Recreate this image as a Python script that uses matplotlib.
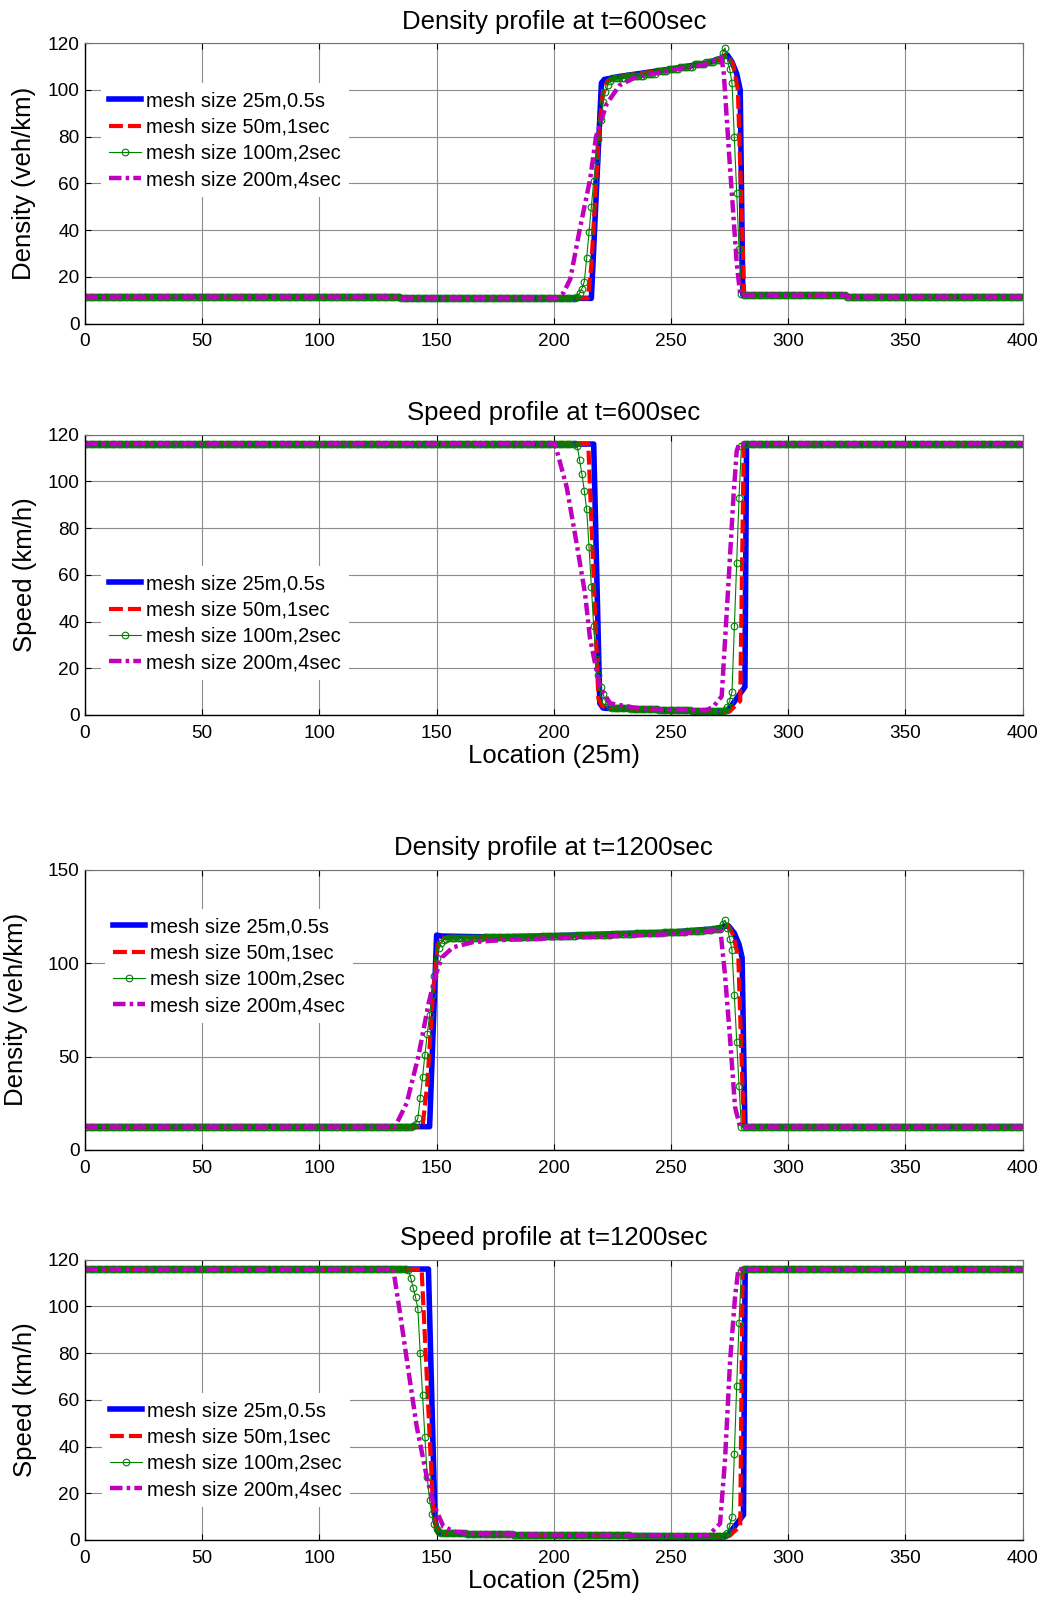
"""
Density and speed profiles at t=600s and t=1200s for four mesh sizes.
"""

import matplotlib.pyplot as plt
import numpy as np

plt.rcParams["font.family"] = ["Liberation Sans", "DejaVu Sans"]
plt.rcParams["lines.scale_dashes"] = False

LABELS = [
    "mesh size 25m,0.5s",
    "mesh size 50m,1sec",
    "mesh size 100m,2sec",
    "mesh size 200m,4sec",
]
TITLES = [
    "Density profile at t=600sec",
    "Speed profile at t=600sec",
    "Density profile at t=1200sec",
    "Speed profile at t=1200sec",
]
YLABELS = ["Density (veh/km)", "Speed (km/h)", "Density (veh/km)", "Speed (km/h)"]
XLABEL = "Location (25m)"
X_TICKS = [0, 50, 100, 150, 200, 250, 300, 350, 400]

# cell index of the 100m-mesh output (one value per 25m cell)
CELLS = np.arange(0, 401)

# ---- density at t=600sec ----
D600_BLUE_X = [0, 134, 135, 216, 220.3, 221.5, 228, 250, 265, 271, 274, 276, 278, 279.5, 280.6, 324, 325, 400]
D600_BLUE_Y = [11.5, 11.5, 10.8, 10.8, 103, 104.5, 105.8, 109, 111.5, 113.5, 115, 112, 107, 100, 12.3, 12.3, 11.5, 11.5]
D600_RED_X = [0, 134, 135, 214.5, 216, 218, 219.5, 221, 223, 228, 250, 265, 271, 274, 276.5, 278.5, 281.2, 324, 325, 400]
D600_RED_Y = [11.5, 11.5, 10.8, 10.8, 25, 60, 85, 100, 104, 105.8, 109, 111.5, 113.5, 115, 111, 100, 12.3, 12.3, 11.5, 11.5]
D600_GREEN = (
    [11.5] * 135 + [10.8] * 75
    + [11.5, 13, 15, 18, 28, 39, 50, 61, 70, 79, 87, 95, 99, 102, 104]
    + [105] * 6 + [106] * 8 + [107] * 5 + [108] * 5 + [109] * 5
    + [110] * 6 + [111] * 5 + [112] * 4 + [113] * 3
    + [116, 118, 113, 109, 103, 80, 56, 32, 12.5]
    + [12.3] * 44 + [11.5] * 76
)
D600_MAG_X = [0, 134, 135, 201, 204, 207, 211, 215.5, 218, 222.5, 228, 235, 250, 265, 271.5, 272.5, 275, 278, 279.5, 324, 325, 400]
D600_MAG_Y = [11.5, 11.5, 10.8, 10.8, 13, 19, 40, 62, 80, 94, 102, 105.5, 108.5, 111, 114, 107, 69, 26, 12.3, 12.3, 11.5, 11.5]

# ---- speed at t=600sec ----
S600_BLUE_X = [0, 217, 219.6, 221, 223, 235, 250, 265, 274, 281.5, 282.2, 400]
S600_BLUE_Y = [116, 116, 5, 3, 2.8, 2.5, 2, 1.5, 1.5, 12, 116, 116]
S600_RED_X = [0, 214.7, 219, 220.5, 223, 235, 250, 265, 275, 279.5, 281, 400]
S600_RED_Y = [116, 116, 7, 4, 3, 2.5, 2, 1.5, 1.5, 6, 116, 116]
S600_GREEN = (
    [116] * 209
    + [116, 115, 109, 103, 96, 88, 72, 55, 38, 24, 17, 12, 9, 6, 4.5, 3.5]
    + [3] * 8 + [2.5] * 12 + [2] * 14 + [1.5] * 14
    + [2, 3.5, 6, 10, 38, 65, 93, 115]
    + [116] * 120
)
S600_MAG_X = [0, 200.5, 205.5, 209.8, 213.3, 215.4, 217.6, 219.7, 224, 235, 250, 265, 268, 271.6, 274.4, 276.6, 278, 279, 400]
S600_MAG_Y = [116, 116, 97.5, 73, 52, 33, 22, 12, 5, 3, 2.2, 2, 3.5, 8, 55, 93, 113, 116, 116]

# ---- density at t=1200sec ----
D1200_BLUE_X = [0, 147, 150, 152, 175, 200, 250, 268, 274.5, 277, 279, 280.3, 281.5, 400]
D1200_BLUE_Y = [12.5, 12.5, 115, 114.5, 114, 114.7, 116.6, 118.3, 120, 116, 110, 103, 12.5, 12.5]
D1200_RED_X = [0, 144, 146, 148.5, 150.5, 152, 175, 200, 250, 268, 274.5, 276.5, 278.7, 281, 400]
D1200_RED_Y = [12.5, 12.5, 35, 85, 110, 113.5, 114, 114.7, 116.6, 118.3, 120, 115, 103, 12.5, 12.5]
D1200_GREEN = (
    [12.5] * 140
    + [13, 14, 17, 28, 39, 51, 62, 72, 83, 93, 103, 108, 111, 112.5, 113]
    + [113.5] * 15 + [114] * 25 + [114.5] * 15 + [115] * 15 + [115.5] * 10
    + [116] * 12 + [116.5] * 10 + [117] * 7 + [117.5] * 4 + [118.5] * 4
    + [121, 123, 119, 113, 107, 83, 58, 34, 12.5]
    + [12.5] * 120
)
D1200_MAG_X = [0, 132.3, 137.2, 142.2, 146.5, 149.3, 152.2, 157, 165.7, 180, 200, 250, 268, 271, 273, 275.2, 277.3, 279.4, 400]
D1200_MAG_Y = [12.5, 12.5, 25, 50, 78, 92.5, 103, 108.5, 111.3, 112.5, 113.3, 115.5, 117.5, 118.3, 94, 59, 23, 12.5, 12.5]

# ---- speed at t=1200sec ----
S1200_BLUE_X = [0, 146.5, 149.3, 150.5, 152, 165, 200, 250, 274, 280.9, 281.6, 400]
S1200_BLUE_Y = [116, 116, 8.6, 3.5, 2.8, 2.5, 2, 1.8, 1.8, 10.7, 116, 116]
S1200_RED_X = [0, 143.6, 148.6, 150, 152, 165, 200, 250, 275, 279.5, 280.5, 400]
S1200_RED_Y = [116, 116, 11.4, 5, 3, 2.5, 2, 1.8, 1.8, 6, 116, 116]
S1200_GREEN = (
    [116] * 138
    + [115.6, 112, 108, 104, 99, 80, 62, 44, 27, 17, 11, 7, 4.5, 3.5, 3]
    + [3] * 10 + [2.5] * 20 + [2] * 50 + [1.8] * 40
    + [2, 3, 6, 10, 37, 66, 93, 115]
    + [116] * 120
)
S1200_MAG_X = [0, 131.5, 134.4, 137.9, 141.5, 145.8, 148.6, 152.9, 158, 170, 200, 250, 266, 270.9, 273, 275.2, 277.3, 278.7, 400]
S1200_MAG_Y = [116, 116, 97, 73, 48.6, 27, 15.7, 5.7, 3.5, 2.5, 2.2, 2, 2, 7, 34, 77, 104, 116, 116]

STYLES = [
    dict(color="#0000ff", lw=4.0, ls="-"),
    dict(color="#ff0000", lw=3.0, dashes=(10, 3.6)),
    dict(color="#008000", lw=0.8, ls="-", marker="o", ms=4.8, mfc="none", mew=0.8),
    dict(color="#bf00bf", lw=3.2, dashes=(9, 3, 2.5, 3)),
]


def draw_panel(ax, series, ylim, yticks, title, ylabel, legend_y, legend_x, ylabel_x, xlabel=None):
    for (xs, ys), style, label in zip(series, STYLES, LABELS):
        ax.plot(xs, ys, label=label, **style)
    ax.set_xlim(0, 400)
    ax.set_ylim(*ylim)
    ax.set_xticks(X_TICKS)
    ax.set_yticks(yticks)
    ax.grid(True, color="0.55", lw=0.8)
    ax.set_axisbelow(True)
    ax.tick_params(direction="in", top=True, right=True, length=4, width=0.8, labelsize=13.7)
    ax.tick_params(axis="x", pad=7)
    ax.tick_params(axis="y", pad=4)
    for side in ("top", "right"):
        ax.spines[side].set_color("0.45")
        ax.spines[side].set_linewidth(0.8)
    for side in ("bottom", "left"):
        ax.spines[side].set_linewidth(1.0)
    ax.set_title(title, fontsize=18.5, pad=10.5)
    ax.set_ylabel(ylabel, fontsize=18.5)
    ax.yaxis.set_label_coords(ylabel_x, 0.5)
    if xlabel:
        ax.set_xlabel(xlabel, fontsize=18.5, labelpad=2)
    leg = ax.legend(
        loc="upper left",
        bbox_to_anchor=(legend_x, legend_y),
        borderaxespad=0,
        fontsize=14.5,
        handlelength=1.6,
        handletextpad=0.25,
        labelspacing=0.36,
        borderpad=0.4,
        fancybox=False,
        framealpha=1.0,
        numpoints=1,
    )
    leg.get_frame().set_edgecolor("none")


def main():
    fig = plt.figure(figsize=(10.44, 15.97), dpi=100)
    left, width, height = 0.0814, 0.8982, 0.1755
    ax1 = fig.add_axes([left, 0.7974, width, height])
    ax2 = fig.add_axes([left, 0.5523, width, height])
    ax3 = fig.add_axes([left, 0.2799, width, height])
    ax4 = fig.add_axes([left, 0.0357, width, height])

    draw_panel(
        ax1,
        [(D600_BLUE_X, D600_BLUE_Y), (D600_RED_X, D600_RED_Y), (CELLS, D600_GREEN), (D600_MAG_X, D600_MAG_Y)],
        (0, 120), [0, 20, 40, 60, 80, 100, 120], TITLES[0], YLABELS[0], 0.857, 0.017, -0.0527,
    )
    draw_panel(
        ax2,
        [(S600_BLUE_X, S600_BLUE_Y), (S600_RED_X, S600_RED_Y), (CELLS, S600_GREEN), (S600_MAG_X, S600_MAG_Y)],
        (0, 120), [0, 20, 40, 60, 80, 100, 120], TITLES[1], YLABELS[1], 0.530, 0.017, -0.0515, XLABEL,
    )
    draw_panel(
        ax3,
        [(D1200_BLUE_X, D1200_BLUE_Y), (D1200_RED_X, D1200_RED_Y), (CELLS, D1200_GREEN), (D1200_MAG_X, D1200_MAG_Y)],
        (0, 150), [0, 50, 100, 150], TITLES[2], YLABELS[2], 0.859, 0.021, -0.0603,
    )
    draw_panel(
        ax4,
        [(S1200_BLUE_X, S1200_BLUE_Y), (S1200_RED_X, S1200_RED_Y), (CELLS, S1200_GREEN), (S1200_MAG_X, S1200_MAG_Y)],
        (0, 120), [0, 20, 40, 60, 80, 100, 120], TITLES[3], YLABELS[3], 0.523, 0.018, -0.0515, XLABEL,
    )
    fig.savefig("out.png", dpi=100)
    plt.close(fig)


if __name__ == "__main__":
    main()
